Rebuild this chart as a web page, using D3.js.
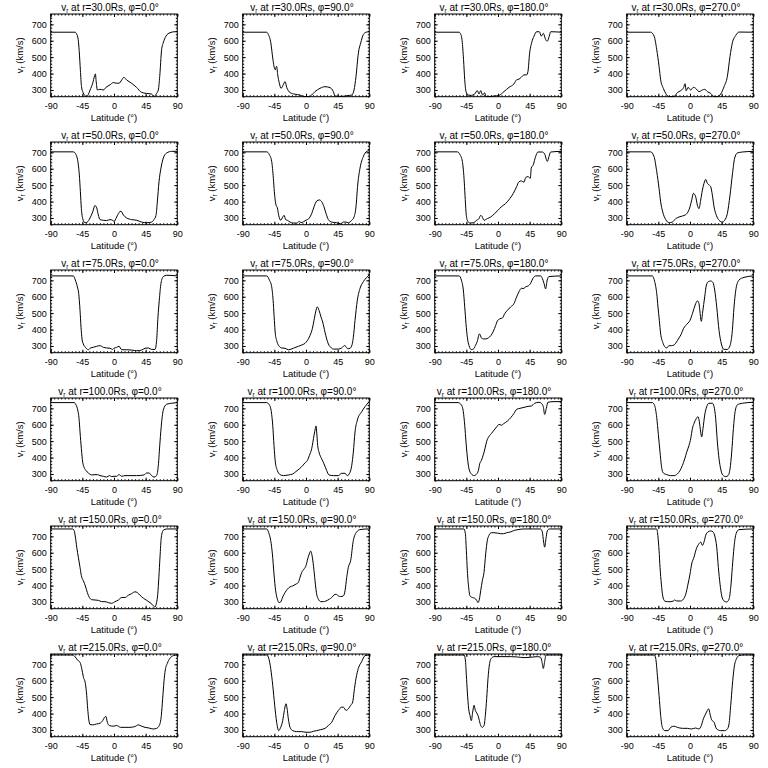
<!DOCTYPE html>
<html><head><meta charset="utf-8">
<script src="https://cdn.jsdelivr.net/npm/d3@7"></script>
<style>body{margin:0;background:#fff}svg{display:block}text{font-family:"Liberation Sans",Arial,sans-serif;fill:#000}</style>
</head><body><svg id="c" width="768" height="768"></svg>
<script>
const radii = [30, 50, 75, 100, 150, 215];
const phis = [0, 90, 180, 270];
const latTicks = [-90, -45, 0, 45, 90];
const latTickLabels = ["-90", "-45", "0", "45", "90"];
const vTicks = [300, 400, 500, 600, 700];
const latMinor = d3.range(-90, 91, 5);
const vMinor = d3.range(260, 761, 20);
const vDomain = [259, 763];

const r30_p0 = [[-90,652],[-55.4,652],[-53,640],[-51,610],[-49.5,540],[-47.8,420],[-46.2,320],[-44,285],[-42,268],[-39,260],[-36.5,272],[-34,300],[-30.3,341],[-27.7,385],[-26.5,398],[-25.3,350],[-23.7,300],[-20,304],[-15,300],[-11.4,316],[-5.7,331],[-1,345],[3.8,341],[7,341],[11,361],[14,377],[18,361],[25,341],[32,316],[39,286],[46,279],[53.5,275],[57,260],[60.6,279],[63,300],[65,382],[67.7,546],[70,587],[73.9,628],[79.6,649],[86.7,655],[90,655]];
const r30_p90 = [[-90,652],[-56,652],[-53.5,638],[-50,587],[-47.3,495],[-45.5,444],[-43.6,423],[-42.5,440],[-41.7,444],[-40.2,392],[-37.9,341],[-35.5,310],[-33.1,325],[-29.8,351],[-27.4,316],[-22.7,284],[-15.6,274],[-8.5,269],[-3,260],[5,260],[8,269],[12.8,290],[19.9,310],[27,320],[34.2,314],[38.9,290],[41.3,263],[48,261],[55,262],[57.9,265],[65,269],[68.3,300],[71.1,382],[74.5,526],[77.8,587],[81.6,638],[85.4,652],[90,655]];
const r30_p180 = [[-90,652],[-55.4,652],[-53,640],[-51,600],[-49,485],[-47.3,362],[-45.5,290],[-42.6,269],[-38,267],[-33.2,275],[-29.4,296],[-27,275],[-24.6,296],[-21.8,269],[-19,283],[-17,260],[-12.8,260],[-5.7,263],[1.4,267],[8.5,290],[15.6,316],[22.7,337],[26.5,362],[29.8,366],[33.2,378],[37,392],[40.8,392],[42.6,413],[45,526],[47.8,587],[51.2,628],[55,655],[58.7,655],[61.6,628],[64.4,645],[67.7,608],[70,597],[72.9,628],[74.9,655],[90,652]];
const r30_p270 = [[-90,652],[-55.9,652],[-51,628],[-47.3,546],[-44,444],[-41.7,362],[-37.9,310],[-34.5,279],[-29.8,260],[-22.7,260],[-18,284],[-13.2,296],[-9,315],[-7,338],[-5.5,295],[-2.8,316],[1,300],[4.8,316],[8.1,310],[12.8,290],[17.6,300],[20.9,304],[24.7,290],[29.4,279],[34.2,260],[38.9,260],[43.6,275],[48.4,320],[53.1,382],[56.9,505],[60.2,587],[65,632],[69.7,653],[90,652]];

const r50_p0 = [[-90,703],[-57.8,703],[-54,686],[-50.7,624],[-49.3,563],[-47.8,460],[-46.4,357],[-44.5,296],[-41.2,271],[-37.9,275],[-34.1,300],[-30.3,337],[-27,376],[-24.6,362],[-22.3,318],[-19.9,290],[-15.2,286],[-10.4,284],[-5.7,290],[-1.9,286],[0,278],[3.8,306],[7.1,333],[10,341],[13.3,318],[18,300],[25.1,290],[32.2,286],[39.3,275],[46.4,271],[53.5,275],[56.8,290],[59.7,316],[61.6,398],[64,521],[66.8,604],[70.1,665],[74.9,696],[82,706],[90,706]];
const r50_p90 = [[-90,703],[-55.9,703],[-52.1,686],[-48.8,645],[-46.4,542],[-45,460],[-42.6,378],[-40.7,362],[-38.8,316],[-36,286],[-33.1,306],[-31.2,316],[-28.9,290],[-26.5,286],[-22.7,275],[-18,269],[-13.2,269],[-9.5,279],[-7.1,271],[-3.7,277],[0,286],[4.8,300],[8.1,327],[11.4,368],[15.2,403],[19,410],[22.3,399],[25.6,368],[28.5,327],[31.8,290],[36.5,275],[43.6,271],[49.3,265],[53.1,275],[56.9,275],[60.2,271],[65,286],[68.3,306],[71.1,368],[73.5,501],[76.8,604],[81.6,675],[86.3,706],[90,710]];
const r50_p180 = [[-90,703],[-57.8,703],[-54,686],[-50.7,645],[-48.3,542],[-46.9,439],[-45.5,337],[-43.6,286],[-39.8,269],[-35,271],[-30.3,286],[-27,296],[-24.6,316],[-22.7,310],[-19.9,286],[-15.2,296],[-10.4,306],[-4.7,327],[0,347],[4.7,368],[10.9,388],[17,419],[21.8,450],[26.5,491],[29.8,521],[33.2,526],[37,518],[39.3,546],[42.6,552],[46,542],[47.3,604],[50.1,624],[53.5,675],[56.8,702],[62.9,702],[66.3,690],[70.1,645],[72.5,675],[74.9,702],[90,706]];
const r50_p270 = [[-90,703],[-55.9,703],[-51.2,675],[-47.3,583],[-44,480],[-41.7,398],[-38.8,337],[-34.5,290],[-29.8,271],[-25,275],[-20.3,296],[-15.6,306],[-10.9,312],[-6.1,320],[-2.8,337],[0,368],[2.4,409],[4.8,450],[8.1,429],[10.5,378],[12.8,357],[15.2,409],[17.6,470],[19.9,511],[22.3,535],[24.7,511],[27.1,501],[29.4,491],[31.8,439],[34.2,368],[37.5,316],[41.3,286],[46,275],[49.3,286],[53.1,327],[56.9,439],[60.2,562],[63.5,665],[67.3,696],[74.4,702],[90,706]];

const r75_p0 = [[-90,727],[-57.8,727],[-55,702],[-52.1,661],[-50.2,620],[-48.3,517],[-46.9,415],[-45.5,343],[-43.6,312],[-40.7,292],[-36.5,277],[-33.2,288],[-29.4,292],[-24.6,298],[-19.9,302],[-15.2,292],[-10.4,288],[-5.7,286],[-1.9,279],[0,286],[3.8,292],[7.1,298],[10.9,277],[18,277],[25.1,275],[32.2,271],[39.3,275],[44.1,286],[48.8,288],[53.5,279],[58.3,279],[60.6,333],[62.5,476],[64.4,579],[66.8,682],[70.1,723],[74.9,731],[90,727]];
const r75_p90 = [[-90,727],[-55.9,727],[-52.1,702],[-48.8,661],[-46.4,558],[-45,456],[-43.6,374],[-41.7,333],[-38.8,302],[-34.5,288],[-29.8,286],[-25,277],[-18,286],[-10.9,298],[-6.1,306],[-1.4,316],[2,333],[5.7,364],[9,405],[11.4,456],[13.7,507],[16.1,538],[18.5,517],[21.4,476],[23.7,446],[27,384],[29.4,343],[31.8,312],[35.1,292],[38.9,281],[46,281],[50.8,288],[54.6,302],[56.9,296],[59.3,283],[62.6,286],[65.5,308],[67.3,353],[69.7,456],[73,579],[76.8,651],[81.6,692],[90,733]];
const r75_p180 = [[-90,727],[-55.4,727],[-52.1,702],[-49.3,641],[-47.3,538],[-45.5,435],[-43.6,353],[-41.2,302],[-37.9,278],[-35,281],[-32.2,302],[-29.4,329],[-26.5,374],[-23.2,347],[-20.5,343],[-17.1,343],[-13.8,349],[-10,364],[-6.6,390],[-3.3,425],[-1,452],[2.8,466],[6.2,470],[9.5,497],[13.3,517],[18,538],[22.7,558],[26.5,599],[29.8,630],[33.2,651],[37,651],[39.3,661],[42.6,665],[46.4,682],[49.7,712],[53.5,727],[60.6,727],[63,712],[65.4,682],[67.7,648],[70,702],[72.5,723],[90,727]];
const r75_p270 = [[-90,727],[-53.5,727],[-50.2,692],[-47.3,620],[-45.5,538],[-43.6,456],[-41.7,374],[-38.8,323],[-36,296],[-33.1,288],[-29.8,302],[-26.5,302],[-22.7,306],[-19.4,323],[-15.6,349],[-12.3,374],[-9.4,405],[-6.1,425],[-2.8,440],[0,456],[3.4,497],[5.7,528],[8.1,558],[10.5,575],[12.8,558],[14.2,507],[16.1,450],[18,507],[20.9,599],[23.3,671],[26.1,692],[29.4,696],[32.7,686],[35.1,641],[38,538],[41.3,394],[44.6,312],[48.4,279],[53.1,279],[56.9,302],[60.2,394],[62.6,538],[65.5,651],[69.7,702],[76.8,718],[90,727]];

const r100_p0 = [[-90,735],[-56.8,735],[-54,721],[-51.6,690],[-49.7,638],[-48.3,556],[-46.4,454],[-44.5,372],[-42.6,341],[-39.8,321],[-36.5,306],[-31.7,294],[-27,296],[-23.7,296],[-19.9,290],[-15.2,286],[-10.4,281],[-6.6,290],[-3.3,284],[0,286],[3.8,286],[7.1,296],[10.9,286],[15.6,290],[22.7,290],[32.2,290],[42.6,294],[46.4,306],[49.7,306],[53.5,290],[56.8,281],[60.6,290],[63,351],[65.4,495],[67.8,618],[70.1,690],[74.9,725],[82,731],[90,735]];
const r100_p90 = [[-90,735],[-55.9,735],[-52.1,721],[-49.3,679],[-47.3,597],[-45.5,474],[-43.6,372],[-40.7,321],[-36.9,296],[-32.2,290],[-25,294],[-18.9,300],[-14.2,315],[-9.5,331],[-4.7,351],[-1.4,368],[2,382],[4.8,413],[8.1,454],[11.4,536],[13.3,577],[14.2,593],[15.2,556],[16.6,474],[18.5,433],[22.3,392],[25.6,362],[29.4,321],[32.7,294],[38.9,290],[46,290],[50.8,304],[55.5,304],[58.8,290],[62.6,310],[65,351],[67.3,433],[69.7,556],[73,628],[79.1,679],[83.9,710],[90,741]];
const r100_p180 = [[-90,735],[-56.8,735],[-52.1,721],[-49.3,679],[-47.3,597],[-45.5,495],[-43.6,403],[-41.2,331],[-37.9,300],[-34.1,290],[-30.3,300],[-27.9,321],[-26,362],[-23.7,382],[-20.9,417],[-18,464],[-16.1,499],[-13.3,526],[-9.5,546],[-5.7,567],[-1.9,587],[1.4,602],[4.7,597],[8.5,608],[13.3,622],[18,643],[22.7,669],[26.5,694],[31.3,700],[37,706],[42.6,712],[47.3,714],[52.1,731],[58.3,737],[61.6,731],[64.4,710],[66.3,663],[68.7,700],[71,737],[79.6,741],[90,741]];
const r100_p270 = [[-90,735],[-53.5,735],[-50.2,716],[-47.3,644],[-45,541],[-42.6,433],[-40.7,351],[-37.9,306],[-33.1,296],[-27.4,290],[-22.7,290],[-18,300],[-14.2,321],[-10.9,351],[-7.5,392],[-4.7,433],[-1.4,474],[1,515],[3.4,577],[5.7,608],[9,638],[11.4,649],[13.3,618],[15.2,556],[16.6,526],[18.5,577],[20.9,659],[23.7,710],[27,731],[31.8,731],[34.2,710],[36.5,638],[38.9,495],[41.3,392],[43.6,331],[46.5,294],[50.8,284],[54.1,290],[56.9,331],[59.3,433],[61.7,577],[64.1,679],[67.3,721],[74.4,731],[90,737]];

const r150_p0 = [[-90,745],[-58.7,745],[-56.8,737],[-54.9,696],[-53,634],[-50.7,573],[-48.3,511],[-46.4,460],[-43.6,429],[-40.7,398],[-37.9,357],[-35,327],[-31.7,314],[-27,312],[-22.3,310],[-17.5,302],[-12.8,302],[-8,296],[-3.3,292],[1.4,302],[6.2,312],[10.9,327],[15.6,327],[20.4,341],[25.1,351],[29.8,362],[33.2,357],[37,341],[41.7,323],[46.4,310],[51.2,296],[55,282],[58,269],[60.5,296],[62.2,347],[63.8,450],[65.4,573],[67.3,696],[70.1,737],[74.9,745],[90,745]];
const r150_p90 = [[-90,745],[-55.9,745],[-53,722],[-50.2,675],[-47.8,593],[-45.5,470],[-43.1,368],[-40.7,317],[-38.3,296],[-36,300],[-33.1,331],[-29.8,357],[-26.5,378],[-22.7,392],[-18.9,398],[-14.2,409],[-10.9,419],[-8.5,450],[-6.1,480],[-2.8,501],[0,521],[2.4,562],[4.7,593],[6.6,610],[9,573],[11.4,491],[13.3,409],[15.2,347],[17.6,317],[20.9,302],[24.7,302],[28.4,306],[33.2,317],[36.5,327],[39.8,343],[42.6,347],[46,337],[49.3,333],[53.1,337],[55.5,368],[57.9,450],[60.2,511],[63.5,552],[67.3,675],[72.1,727],[76.8,741],[88.3,745],[90,741]];
const r150_p180 = [[-90,745],[-48.3,745],[-46.4,716],[-45,614],[-43.6,491],[-41.7,388],[-39.8,337],[-36.5,327],[-33.2,323],[-30.3,310],[-28.4,296],[-26.5,317],[-24.6,368],[-22.3,429],[-19.9,480],[-17.5,593],[-15.2,675],[-12.8,706],[-9.5,722],[-5.7,722],[-1,720],[3.8,716],[7.6,716],[12.3,722],[18,727],[23.7,737],[28.4,741],[37,745],[60.6,745],[63,727],[64.9,665],[66.3,634],[68.2,686],[70.1,733],[73,745],[90,745]];
const r150_p270 = [[-90,745],[-47.3,745],[-45.5,696],[-44,614],[-42.6,511],[-40.7,409],[-38.8,337],[-36,306],[-32.2,302],[-27.4,302],[-23.7,306],[-21.8,312],[-18.9,306],[-13.2,306],[-9.4,317],[-6.1,347],[-2.8,409],[0,470],[2.4,532],[5.7,573],[9,624],[12.8,655],[15.2,665],[17.6,645],[19.9,665],[22.3,706],[25.6,727],[29.4,733],[32.7,727],[35.6,696],[38,634],[40.3,511],[42.7,409],[45.1,337],[48.4,306],[52.2,300],[55.5,317],[57.9,388],[60.2,511],[62.6,634],[65.5,716],[69.7,741],[90,745]];

const r215_p0 = [[-90,757],[-58.7,757],[-55.4,747],[-52.1,727],[-48.3,712],[-45.9,675],[-43.6,624],[-40.7,583],[-38.8,511],[-37.4,429],[-36,368],[-34.1,333],[-30.3,331],[-24.6,337],[-19.9,341],[-16.1,357],[-13.3,378],[-11.4,382],[-9.5,347],[-6.6,327],[-0.9,323],[3.8,327],[9.5,316],[15.6,316],[22.7,316],[29.8,321],[34.5,331],[39.3,323],[44.1,316],[49.7,312],[55.9,306],[60.6,310],[64.4,327],[67.3,388],[69.2,491],[71,593],[72.9,665],[75.8,706],[79.6,737],[84.3,753],[90,757]];
const r215_p90 = [[-90,757],[-55.9,757],[-53,737],[-50.2,675],[-47.3,573],[-44.5,450],[-41.7,347],[-38.8,296],[-36,316],[-33.1,357],[-30.8,419],[-28.4,460],[-27,433],[-25.1,368],[-22.7,316],[-18.9,296],[-13.2,290],[-6.1,290],[0,286],[5.7,286],[10.5,292],[15.2,296],[20.9,302],[27.1,310],[31.8,327],[36.5,347],[41.3,388],[46,419],[50.8,439],[53.1,439],[56.9,419],[60.2,429],[63.5,450],[66.4,470],[68.3,532],[71.1,614],[74.4,675],[79.1,716],[83.9,753],[90,757]];
const r215_p180 = [[-90,757],[-48.3,757],[-46.4,727],[-45,634],[-43.6,532],[-41.7,429],[-39.8,388],[-37.9,357],[-36,409],[-34.1,450],[-32.2,419],[-30.3,404],[-28.4,388],[-26.5,357],[-24.6,327],[-22.3,316],[-19.9,327],[-18,388],[-16.1,491],[-14.2,614],[-12.3,696],[-9.5,737],[-5.7,747],[18,747],[27.5,745],[37,741],[46.4,743],[55.9,747],[60.6,743],[62.5,716],[64.4,675],[66.3,716],[68.2,757],[90,757]];
const r215_p270 = [[-90,757],[-51.2,757],[-48.8,737],[-46.4,634],[-44,511],[-41.7,388],[-39.3,316],[-36,296],[-31.2,296],[-27.4,316],[-22.7,323],[-18,316],[-10.9,310],[-3.8,310],[1.9,306],[8.1,312],[12.8,306],[16.1,327],[19,368],[22.3,398],[24.7,419],[26.6,429],[28.4,398],[30.8,362],[34.2,347],[37.9,306],[43.6,296],[49.3,296],[53.1,306],[55.5,337],[57.9,450],[60.2,573],[62.6,675],[66.4,737],[69.7,753],[76.8,757],[90,757]];

const grid = [
  [r30_p0, r30_p90, r30_p180, r30_p270],
  [r50_p0, r50_p90, r50_p180, r50_p270],
  [r75_p0, r75_p90, r75_p180, r75_p270],
  [r100_p0, r100_p90, r100_p180, r100_p270],
  [r150_p0, r150_p90, r150_p180, r150_p270],
  [r215_p0, r215_p90, r215_p180, r215_p270]
];

const svg = d3.select("#c");
const cellW = 192, cellH = 128;
const bx0 = 50.7, bx1 = 177.3, by0 = 14, by1 = 96.7;
const x = d3.scaleLinear().domain([-90, 90]).range([bx0, bx1]);
const y = d3.scaleLinear().domain(vDomain).range([by1, by0]);
const line = d3.line().x(d => x(d[0])).y(d => y(Math.max(vDomain[0], Math.min(vDomain[1], d[1])))).curve(d3.curveMonotoneX);

function styleAxis(g) {
  g.attr("font-family", null).attr("font-size", null);
  g.select(".domain").remove();
  g.selectAll(".tick line").attr("stroke", "#000").attr("stroke-width", 1);
}

radii.forEach((r, ri) => {
  phis.forEach((p, pi) => {
    const g = svg.append("g").attr("transform", `translate(${pi * cellW},${ri * cellH})`);
    g.append("g").attr("transform", `translate(0,${by1})`).call(d3.axisBottom(x).tickValues(latMinor).tickSize(-1.5).tickFormat("")).call(styleAxis);
    g.append("g").attr("transform", `translate(0,${by0})`).call(d3.axisTop(x).tickValues(latMinor).tickSize(-1.5).tickFormat("")).call(styleAxis);
    g.append("g").attr("transform", `translate(${bx0},0)`).call(d3.axisLeft(y).tickValues(vMinor).tickSize(-1.5).tickFormat("")).call(styleAxis);
    g.append("g").attr("transform", `translate(${bx1},0)`).call(d3.axisRight(y).tickValues(vMinor).tickSize(-1.5).tickFormat("")).call(styleAxis);
    const xb = g.append("g").attr("transform", `translate(0,${by1})`)
      .call(d3.axisBottom(x).tickValues(latTicks).tickSize(-3).tickPadding(5).tickFormat((d, i) => latTickLabels[i])).call(styleAxis);
    xb.selectAll("text").attr("font-size", 9).attr("y", 6);
    g.append("g").attr("transform", `translate(0,${by0})`).call(d3.axisTop(x).tickValues(latTicks).tickSize(-3).tickFormat("")).call(styleAxis);
    const yl = g.append("g").attr("transform", `translate(${bx0},0)`)
      .call(d3.axisLeft(y).tickValues(vTicks).tickSize(-3).tickPadding(4)).call(styleAxis);
    yl.selectAll("text").attr("font-size", 9).attr("x", -4);
    g.append("g").attr("transform", `translate(${bx1},0)`).call(d3.axisRight(y).tickValues(vTicks).tickSize(-3).tickFormat("")).call(styleAxis);
    g.append("rect").attr("x", bx0).attr("y", by0).attr("width", bx1 - bx0).attr("height", by1 - by0)
      .attr("fill", "none").attr("stroke", "#000").attr("stroke-width", 1);
    g.append("path").datum(grid[ri][pi]).attr("d", line).attr("fill", "none").attr("stroke", "#000").attr("stroke-width", 1);
    const t = g.append("text").attr("x", (bx0 + bx1) / 2 - 4).attr("y", 10.5).attr("text-anchor", "middle").attr("font-size", 10);
    t.append("tspan").text("v");
    t.append("tspan").attr("font-size", 6.5).attr("dy", 2).text("r");
    t.append("tspan").attr("dy", -2).text(` at r=${r.toFixed(1)}Rs, \u03c6=${p.toFixed(1)}\u00b0`);
    g.append("text").attr("x", (bx0 + bx1) / 2).attr("y", 120.5).attr("text-anchor", "middle").attr("font-size", 9.5).text("Latitude (\u00b0)");
    const yt = g.append("text").attr("transform", `translate(23,${(by0 + by1) / 2}) rotate(-90)`).attr("text-anchor", "middle").attr("font-size", 9.5);
    yt.append("tspan").text("v");
    yt.append("tspan").attr("font-size", 6.5).attr("dy", 2).text("r");
    yt.append("tspan").attr("dy", -2).text(" (km/s)");
  });
});
</script></body></html>
